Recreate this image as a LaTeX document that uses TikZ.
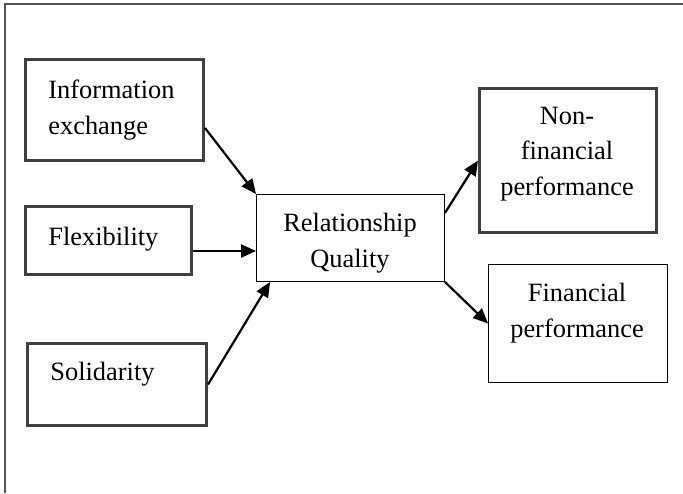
\documentclass[tikz,border=0pt]{standalone}
\usepackage{fontspec}
\setmainfont{Liberation Serif}
\usetikzlibrary{arrows.meta}
\definecolor{boxgray}{RGB}{64,64,64}
\definecolor{framegray}{RGB}{85,85,85}
\begin{document}
\begin{tikzpicture}[x=0.5pt, y=-0.5pt,
	thickbox/.style={draw=boxgray, line width=1.5pt, inner sep=0pt},
	thinbox/.style={draw=black, line width=0.65pt, inner sep=0pt},
	txt/.style={inner sep=0pt, font=\fontsize{13.2pt}{17.7pt}\selectfont},
	arr/.style={-{Triangle[length=7.5pt,width=6.5pt]}, line width=1.1pt}]
	    \useasboundingbox (0,0) rectangle (683,493);
	    \draw [framegray, line width=1pt] (683,4) -- (5,4) -- (5,493);
	    
	    \node [thickbox, minimum width=89pt, minimum height=50.5pt] (info) at (114.5,110) {};
	    \node [thickbox, minimum width=83pt, minimum height=34pt] (flex) at (108.5,240.5) {};
	    \node [thickbox, minimum width=89.5pt, minimum height=41pt] (sol) at (117,384.5) {};
	    \node [thinbox, minimum width=93.8pt, minimum height=43.3pt] (rq) at (350.5,238) {};
	    \node [thickbox, minimum width=88.5pt, minimum height=72pt] (nonfin) at (568,160.5) {};
	    \node [thinbox, minimum width=89.3pt, minimum height=58.8pt] (fin) at (578,323.5) {};
	    
	    \node [txt, anchor=base west, align=left] (infotxt) at (48,134) {Information\\exchange};
	    \node [txt, anchor=base west] (flextxt) at (48,245) {Flexibility};
	    \node [txt, anchor=base west] (soltxt) at (50,380) {Solidarity};
	    \node [txt, anchor=base, align=center] (rqtxt) at (350,267) {Relationship\\Quality};
	    \node [txt, anchor=base, align=center] (nonfintxt) at (567,195) {Non-\\financial\\performance};
	    \node [txt, anchor=base, align=center] (fintxt) at (577,337) {Financial\\performance};
	    
	    \coordinate (fa) at ([yshift=-5.25pt]flex.east);
	    
		\draw [arr] ([yshift=-9pt]info.east) -- (rq.north west);
		\draw [arr] (fa) -- (fa -| rq.west);
		\draw [arr] (sol.east) -- ([xshift=7pt]rq.south west);
		\draw [arr] ([yshift=12.5pt]rq.east) -- (nonfin.west);
		\draw [arr] (rq.south east) -- (fin.west);
		
	\end{tikzpicture}
\end{document}
